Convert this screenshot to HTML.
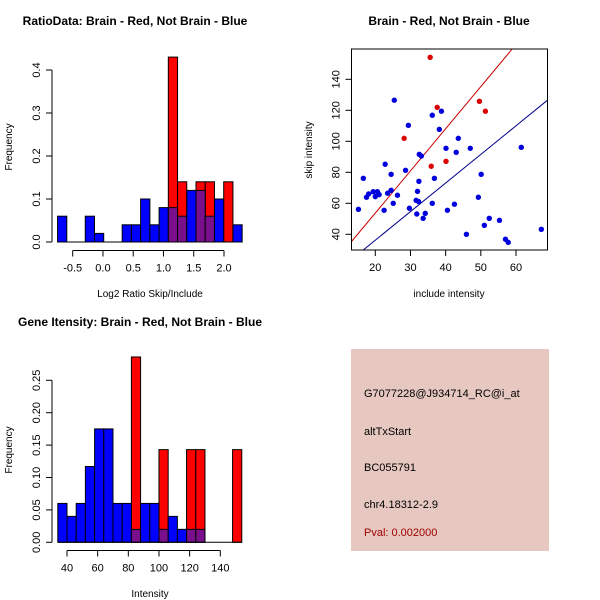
<!DOCTYPE html>
<html><head><meta charset="utf-8"><style>
body{margin:0;background:#fff}
svg{display:block;font-family:"Liberation Sans",sans-serif}
</style></head><body>
<svg id="c" width="600" height="600" viewBox="0 0 600 600">
<rect width="600" height="600" fill="#fff"/>
<g id="p1"></g>
<g id="p2"></g>
<g id="p3"></g>
<g>
<rect x="351" y="349" width="198" height="202" fill="#e6c8c1"/>
<text x="364" y="397" font-size="11">G7077228@J934714_RC@i_at</text>
<text x="364" y="435" font-size="11">altTxStart</text>
<text x="364" y="471" font-size="11">BC055791</text>
<text x="364" y="508" font-size="11">chr4.18312-2.9</text>
<text x="364" y="536" font-size="11" fill="#a00000">Pval: 0.002000</text>
</g>
</svg>
<script>
// ---- Plot 1 data
const ratioBinStart = -0.75, ratioBinWidth = 0.1525;
const ratioBlue = [0.06,0,0,0.06,0.02,0,0,0.04,0.04,0.1,0.04,0.08,0.08,0.06,0.12,0.12,0.06,0.1,0,0.04];
const ratioRed  = [0,0,0,0,0,0,0,0,0,0,0,0,0.43,0.14,0,0.14,0.14,0,0.14,0];
const ratioXTicks = [-0.5,0,0.5,1,1.5,2];
const ratioXTickLabels = ["-0.5","0.0","0.5","1.0","1.5","2.0"];
const ratioYTicks = [0,0.1,0.2,0.3,0.4];
const ratioYTickLabels = ["0.0","0.1","0.2","0.3","0.4"];
// ---- Plot 2 data
const redInclude = [35.6,37.6,28.2,35.9,40.1,49.6,51.3];
const redSkip = [154.2,121.9,101.9,83.9,87.1,125.8,119.4];
const blueInclude = [15.2,16.6,17.5,18.1,19.4,20.0,20.6,21.1,22.5,22.8,23.5,24.5,24.5,25.1,25.4,26.3,28.6,29.4,29.7,31.8,32.0,31.6,32.3,32.4,32.5,33.1,33.6,34.2,36.2,36.2,36.8,38.2,38.8,40.1,40.5,42.5,43.0,43.6,45.9,47.0,49.3,50.1,51.0,52.4,55.3,57.0,57.8,61.5,67.2];
const blueSkip = [56.1,76.1,63.9,66.0,67.5,64.3,67.5,65.6,55.5,85.2,66.5,78.7,68.4,60.0,126.5,65.2,81.3,110.3,56.8,53.1,67.7,61.9,61.1,74.2,91.6,90.5,50.3,53.5,116.8,60.0,76.1,107.7,119.4,95.5,55.5,59.4,92.9,101.9,40.0,95.5,63.9,78.7,45.8,50.3,49.0,36.8,34.8,96.1,43.2];
const redSlope = 2.72, blueSlope = 1.845, lineIntercept = -0.7;
const scXTicks = [20,30,40,50,60];
const scYTicks = [40,60,80,100,120,140];
// ---- Plot 3 data
const intBinStart = 34, intBinWidth = 6;
const intBlue = [0.06,0.04,0.06,0.117,0.175,0.175,0.06,0.06,0.02,0.06,0.06,0.02,0.04,0.02,0.02,0.02,0,0,0,0];
const intRed  = [0,0,0,0,0,0,0,0,0.286,0,0,0.143,0,0,0.143,0.143,0,0,0,0.143];
const intXTicks = [40,60,80,100,120,140];
const intYTicks = [0,0.05,0.1,0.15,0.2,0.25];
const intYTickLabels = ["0.00","0.05","0.10","0.15","0.20","0.25"];

const NS="http://www.w3.org/2000/svg";
function mk(parent,tag,attrs,txt){const e=document.createElementNS(NS,tag);for(const k in attrs)e.setAttribute(k,attrs[k]);if(txt!==undefined)e.textContent=txt;parent.appendChild(e);return e;}
function lin(d0,d1,r0,r1){return v=>r0+(v-d0)*(r1-r0)/(d1-d0);}

function yAxis(g,x,sy,ticks,labels){
  let l=mk(g,'line',{x1:x,x2:x,y1:sy(ticks[0]),y2:sy(ticks[ticks.length-1]),stroke:'#000'});
  
  
  ticks.forEach((t,i)=>{
    let tk=mk(g,'line',{x1:x-6,x2:x,y1:sy(t),y2:sy(t),stroke:'#000'});
    
    
    let tx=mk(g,'text',{x:x-12,y:sy(t),'font-size':11,'text-anchor':'middle',transform:`rotate(-90 ${x-12} ${sy(t)})`},labels[i]);
    
    
  });
}
function xAxis(g,y,sx,ticks,labels){
  let l=mk(g,'line',{x1:sx(ticks[0]),x2:sx(ticks[ticks.length-1]),y1:y,y2:y,stroke:'#000'});
  
  
  ticks.forEach((t,i)=>{
    let tk=mk(g,'line',{x1:sx(t),x2:sx(t),y1:y,y2:y+6,stroke:'#000'});
    
    
    let tx=mk(g,'text',{x:sx(t),y:y+21,'font-size':11,'text-anchor':'middle'},labels[i]);
    
    
  });
}
function title(g,x,y,s){let t=mk(g,'text',{x:x,y:y,'font-size':12,'font-weight':'bold','text-anchor':'middle'},s);
  
  }
function label(g,x,y,s,rot){let t=mk(g,'text',{x:x,y:y,'font-size':10,'text-anchor':'middle',transform:rot?`rotate(-90 ${x} ${y})`:''},s);
  
  }
function hist(g,start,w,blue,red,sx,sy){
  const base=sy(0);
  red.forEach((v,i)=>{if(v<=0)return;const x0=sx(start+i*w),x1=sx(start+(i+1)*w);
    let r=mk(g,'rect',{x:x0,y:sy(v),width:x1-x0,height:base-sy(v),fill:'#ff0000',stroke:'#000','stroke-width':1});
    
    });
  blue.forEach((v,i)=>{if(v<=0)return;const x0=sx(start+i*w),x1=sx(start+(i+1)*w);
    const rv=red[i]||0;
    if(v>rv){let r=mk(g,'rect',{x:x0,y:sy(v),width:x1-x0,height:sy(rv)-sy(v),fill:'#0000ff',stroke:'#000','stroke-width':1});
      
      }
    if(rv>0){const m=Math.min(v,rv);let p=mk(g,'rect',{x:x0,y:sy(m),width:x1-x0,height:base-sy(m),fill:'#7a0f8c',stroke:'#000','stroke-width':1});
      
      }
  });
  let b=mk(g,'line',{x1:sx(start),x2:sx(start+blue.length*w),y1:base,y2:base,stroke:'#000'});
  
  
}

// Plot 1
(function(){const g=document.getElementById('p1');
  const sx=lin(-0.5,2,72.7,224), sy=lin(0,0.4,242,70);
  hist(g,ratioBinStart,ratioBinWidth,ratioBlue,ratioRed,sx,sy);
  yAxis(g,52,sy,ratioYTicks,ratioYTickLabels);
  xAxis(g,250.5,sx,ratioXTicks,ratioXTickLabels);
  title(g,135,25,'RatioData: Brain - Red, Not Brain - Blue');
  label(g,150,297,'Log2 Ratio Skip/Include',false);
  label(g,12,147,'Frequency',true);
})();
// Plot 2
(function(){const g=document.getElementById('p2');
  const sx=lin(20,60,375.3,516), sy=lin(40,140,234.3,79.3);
  const L=351.5,R=547.5,T=49,B=250;
  mk(g,'clipPath',{id:'clip2'}).appendChild(document.createElementNS(NS,'rect'));
  const cr=g.querySelector('#clip2 rect');cr.setAttribute('x',L);cr.setAttribute('y',T);cr.setAttribute('width',R-L);cr.setAttribute('height',B-T);
  const xa=10, xb=75;
  let rl=mk(g,'line',{x1:sx(xa),y1:sy(redSlope*xa+lineIntercept),x2:sx(xb),y2:sy(redSlope*xb+lineIntercept),stroke:'#cc0000','clip-path':'url(#clip2)'});
  
  
  let bl=mk(g,'line',{x1:sx(xa),y1:sy(blueSlope*xa+lineIntercept),x2:sx(xb),y2:sy(blueSlope*xb+lineIntercept),stroke:'#00008b','clip-path':'url(#clip2)'});
  
  
  blueInclude.forEach((v,i)=>{let c=mk(g,'circle',{cx:sx(v),cy:sy(blueSkip[i]),r:2.7,fill:'#0000dd'});
    
    });
  redInclude.forEach((v,i)=>{let c=mk(g,'circle',{cx:sx(v),cy:sy(redSkip[i]),r:2.7,fill:'#dd0000'});
    
    });
  let box=mk(g,'rect',{x:L,y:T,width:R-L,height:B-T,fill:'none',stroke:'#000'});
  
  
  scXTicks.forEach(t=>{let tk=mk(g,'line',{x1:sx(t),x2:sx(t),y1:B,y2:B+6,stroke:'#000'});
    
    
    let tx=mk(g,'text',{x:sx(t),y:B+21,'font-size':11,'text-anchor':'middle'},String(t));
    
    });
  scYTicks.forEach(t=>{let tk=mk(g,'line',{x1:L-6,x2:L,y1:sy(t),y2:sy(t),stroke:'#000'});
    
    
    let tx=mk(g,'text',{x:L-12,y:sy(t),'font-size':11,'text-anchor':'middle',transform:`rotate(-90 ${L-12} ${sy(t)})`},String(t));
    
    });
  title(g,449,25,'Brain - Red, Not Brain - Blue');
  label(g,449,297,'include intensity',false);
  label(g,312,150,'skip intensity',true);
})();
// Plot 3
(function(){const g=document.getElementById('p3');
  const sx=lin(40,140,67,220.3), sy=lin(0,0.25,542.3,380.3);
  hist(g,intBinStart,intBinWidth,intBlue,intRed,sx,sy);
  yAxis(g,52,sy,intYTicks,intYTickLabels);
  xAxis(g,550.5,sx,intXTicks,intXTicks.map(String));
  title(g,140,326,'Gene Itensity: Brain - Red, Not Brain - Blue');
  label(g,150,597,'Intensity',false);
  label(g,12,450,'Frequency',true);
})();
</script>
</body></html>
